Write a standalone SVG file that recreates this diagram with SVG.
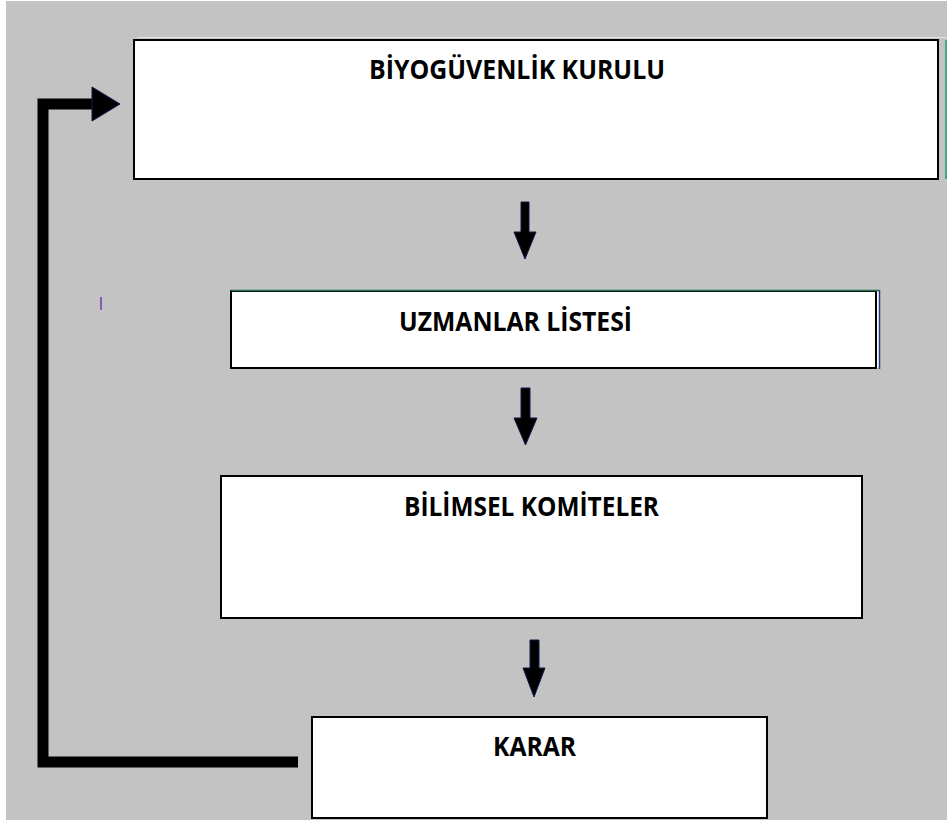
<svg xmlns="http://www.w3.org/2000/svg" width="947" height="820" viewBox="0 0 947 820">
  <style>
    .box { fill: #ffffff; stroke: #000000; stroke-width: 2; }
    .lbl { font-family: "Open Sans", "Lato", "Liberation Sans", sans-serif; font-weight: bold; font-size: 26px; fill: #000000; }
    .arr { fill: #000000; stroke: #101a48; stroke-width: 1; stroke-linejoin: miter; }
    .loop { fill: none; stroke: #000000; stroke-width: 11; stroke-linejoin: miter; }
  </style>
  <rect x="0" y="0" width="947" height="820" fill="#ffffff"/>
  <rect x="6" y="1" width="941" height="819" fill="#c3c3c3"/>
  <line x1="137" y1="37.5" x2="947" y2="37.5" stroke="#e2e2e2" stroke-width="1"/>
  <rect x="100" y="297" width="2" height="13" fill="#8a5ab0"/>

  <g id="node-biyoguvenlik">
    <rect class="box" x="134" y="40" width="804" height="139"/>
    <line x1="946" y1="40" x2="946" y2="179" stroke="#10a080" stroke-width="1.5"/>
    <text class="lbl" x="369" y="79" textLength="296" lengthAdjust="spacingAndGlyphs">BİYOGÜVENLİK KURULU</text>
  </g>

  <g id="node-uzmanlar">
    <rect x="876" y="291" width="3" height="77" fill="#ffffff"/>
    <line x1="879.5" y1="290" x2="879.5" y2="369" stroke="#203a8a" stroke-width="1.5"/>
    <rect class="box" x="231" y="291" width="645" height="77"/>
    <line x1="231" y1="290.5" x2="879" y2="290.5" stroke="#1e6a4e" stroke-width="1.5"/>
    <text class="lbl" x="399" y="331" textLength="233" lengthAdjust="spacingAndGlyphs">UZMANLAR LİSTESİ</text>
  </g>

  <g id="node-bilimsel">
    <rect class="box" x="221" y="476" width="641" height="142"/>
    <text class="lbl" x="404" y="516" textLength="255" lengthAdjust="spacingAndGlyphs">BİLİMSEL KOMİTELER</text>
  </g>

  <g id="node-karar">
    <rect class="box" x="312" y="717" width="455" height="101"/>
    <text class="lbl" x="493" y="756" textLength="83" lengthAdjust="spacingAndGlyphs">KARAR</text>
  </g>

  <g id="connectors">
    <polygon class="arr" points="521,202 529,202 529,232 536,232 525,259 514,232 521,232"/>
    <polygon class="arr" points="521,388 530,388 530,418 537,418 525.5,445 514,418 521,418"/>
    <polygon class="arr" points="530,640 539,640 539,668 545,668 534,697 523,668 530,668"/>
    <path class="loop" d="M298,762 H43 V104 H93"/>
    <polygon class="arr" points="92,87 120,104 92,121"/>
  </g>
</svg>
